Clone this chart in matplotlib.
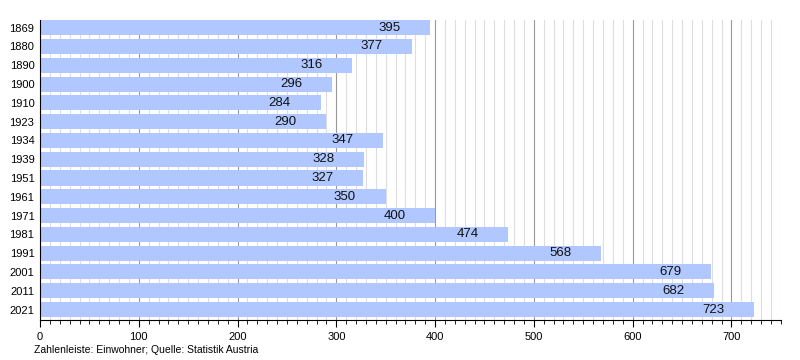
import matplotlib.pyplot as plt
from matplotlib.ticker import MultipleLocator

plt.rcParams['font.family'] = ['Liberation Sans', 'DejaVu Sans']

years = ['1869', '1880', '1890', '1900', '1910', '1923', '1934', '1939',
         '1951', '1961', '1971', '1981', '1991', '2001', '2011', '2021']
pop = [395, 377, 316, 296, 284, 290, 347, 328, 327, 350, 400, 474, 568, 679, 682, 723]

fig = plt.figure(figsize=(8, 3.6), dpi=100)
ax = fig.add_axes([0.05, 0.111, 0.926, 0.833])

ypos = list(range(len(years)))
ax.barh(ypos, pop, height=0.8, color='#b0c8ff', zorder=2)
for y, v in zip(ypos, pop):
    ax.text(v - 30, y, str(v), ha='right', va='center', fontsize=9.5, color='#111111', zorder=3)

ax.set_yticks(ypos)
ax.set_yticklabels(years, fontsize=8)
ax.set_ylim(len(years) - 0.44, -0.4)
ax.set_xlim(0, 750)
ax.xaxis.set_major_locator(MultipleLocator(100))
ax.xaxis.set_minor_locator(MultipleLocator(10))
ax.tick_params(axis='x', which='major', length=5, labelsize=8)
ax.tick_params(axis='x', which='minor', length=3)
ax.tick_params(axis='y', length=0, pad=4)
ax.grid(axis='x', which='major', color='#999999', linewidth=0.8, zorder=0)
ax.grid(axis='x', which='minor', color='#dddddd', linewidth=0.8, zorder=0)
for s in ['top', 'right']:
    ax.spines[s].set_visible(False)

fig.text(0.043, 0.02, 'Zahlenleiste: Einwohner; Quelle: Statistik Austria', fontsize=7.5)

fig.savefig('out.png', dpi=100)
